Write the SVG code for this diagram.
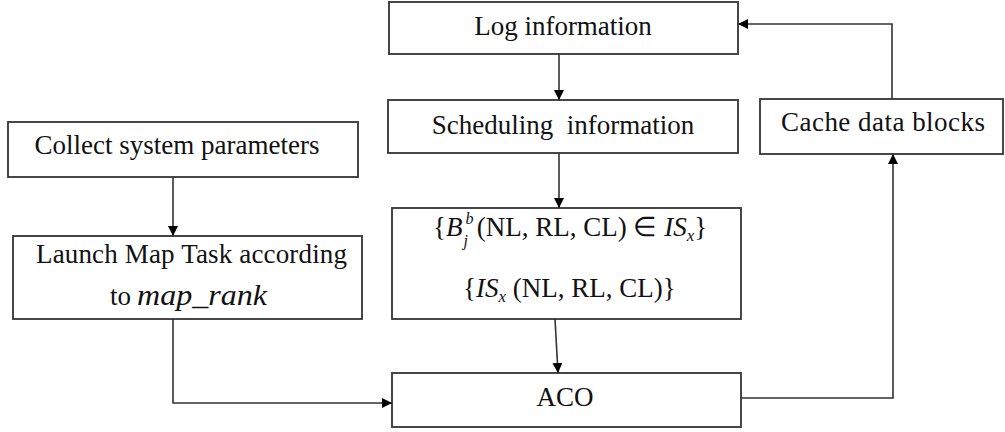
<svg xmlns="http://www.w3.org/2000/svg" width="1005" height="432" viewBox="0 0 1005 432">
  <style>
    .box { fill: #ffffff; stroke: #333333; stroke-width: 1.8; }
    .lbl { font-family: "Liberation Serif", "Times New Roman", serif; font-size: 27px; fill: #111111; }
    .m { font-style: italic; }
    .s { font-size: 17px; font-style: italic; }
    .edge { fill: none; stroke: #333333; stroke-width: 1.6; }
  </style>
  <defs>
    <marker id="arrow" viewBox="0 0 10 10" refX="10" refY="5" markerWidth="10" markerHeight="10" markerUnits="userSpaceOnUse" orient="auto">
      <path d="M0,0 L10,5 L0,10 Z" fill="#000000"/>
    </marker>
  </defs>
  <rect width="1005" height="432" fill="#ffffff"/>

  <g id="log-information">
    <rect class="box" x="389" y="2" width="349" height="52"/>
    <text class="lbl" x="563" y="35" text-anchor="middle">Log information</text>
  </g>

  <g id="scheduling-information">
    <rect class="box" x="388" y="100" width="350" height="53"/>
    <text class="lbl" x="563" y="134" text-anchor="middle" xml:space="preserve">Scheduling  information</text>
  </g>

  <g id="cache-data-blocks">
    <rect class="box" x="760" y="99" width="243" height="55"/>
    <text class="lbl" x="781" y="131" textLength="204">Cache data blocks</text>
  </g>

  <g id="collect-system-parameters">
    <rect class="box" x="8" y="122" width="350" height="55"/>
    <text class="lbl" x="177" y="154" text-anchor="middle">Collect system parameters</text>
  </g>

  <g id="launch-map-task">
    <rect class="box" x="13" y="236" width="349" height="83"/>
    <text class="lbl" x="36" y="263" textLength="311">Launch Map Task according</text>
    <text class="lbl" x="110" y="305">to</text>
    <text class="lbl m" x="137" y="305" style="font-size:29px" textLength="130" lengthAdjust="spacingAndGlyphs">map_rank</text>
  </g>

  <g id="information-sets">
    <rect class="box" x="392" y="208" width="349" height="111"/>
    <text class="lbl" x="433" y="236">{<tspan class="m">B</tspan><tspan class="s" style="font-size:16px" dx="3" dy="-12">b</tspan><tspan class="s" style="font-size:16px" dx="-10" dy="22">j</tspan><tspan dx="2" dy="-10"> (NL, RL, CL) ∈ </tspan><tspan class="m">IS</tspan><tspan class="s" dy="5">x</tspan><tspan dy="-5">}</tspan></text>
    <text class="lbl" x="463" y="297">{<tspan class="m">IS</tspan><tspan class="s" dy="5">x</tspan><tspan dy="-5"> (NL, RL, CL)}</tspan></text>
  </g>

  <g id="aco">
    <rect class="box" x="392" y="373" width="349" height="54"/>
    <text class="lbl" x="565" y="406" text-anchor="middle">ACO</text>
  </g>

  <g id="connectors">
    <path class="edge" d="M559,54 L559,100" marker-end="url(#arrow)"/>
    <path class="edge" d="M559,153 L559,208" marker-end="url(#arrow)"/>
    <path class="edge" d="M555,319 L558,373" marker-end="url(#arrow)"/>
    <path class="edge" d="M173,177 L173,236" marker-end="url(#arrow)"/>
    <path class="edge" d="M173,319 L173,403 L392,403" marker-end="url(#arrow)"/>
    <path class="edge" d="M741,398 L893,398 L893,154" marker-end="url(#arrow)"/>
    <path class="edge" d="M892,99 L892,24 L738,24" marker-end="url(#arrow)"/>
  </g>
</svg>
